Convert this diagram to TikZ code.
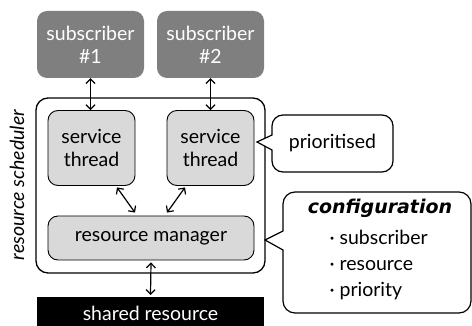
\documentclass[tikz,border=0pt]{standalone}
\usepackage{fontspec}
\setmainfont{Lato}
\newfontfamily\titlefont{DejaVu Sans}
\usetikzlibrary{arrows.meta,calc}
\definecolor{subgray}{HTML}{7F7F7F}
\definecolor{boxgray}{HTML}{D9D9D9}
\begin{document}
\begin{tikzpicture}[x=1pt,y=-1pt,
  font=\fontsize{19.5}{23}\selectfont,
  sub/.style={fill=subgray, rounded corners=10pt, text=white, align=center, inner sep=0pt, minimum width=107pt, minimum height=67pt},
  inbox/.style={draw=black, fill=boxgray, line width=0.9pt, rounded corners=10pt, align=center, inner sep=0pt},
  outer/.style={draw=black, line width=1.3pt, rounded corners=12pt, inner sep=0pt, minimum width=229pt, minimum height=175pt},
  callout/.style={draw=black, line width=1.2pt, fill=white},
  arr/.style={<->, >={Straight Barb[length=4.5pt,width=9pt,line width=1.2pt]}, line width=1.2pt}]
\useasboundingbox (0,0) rectangle (472,326);
% subscribers
\node[sub] (s1) at (90.5,44.5) {subscriber\\\#1};
\node[sub] (s2) at (210.5,44.5) {subscriber\\\#2};
\path (90.5,10) (90.5,77);
% scheduler box
\node[outer] (sched) at (150.5,185.5) {};
\node[rotate=90, font=\fontsize{19.5}{23}\selectfont\itshape] (schedlabel) at (17,185) {resource scheduler};
% inner boxes
\node[inbox, minimum width=87pt, minimum height=75pt] (t1) at (91.5,148) {service\\thread};
\node[inbox, minimum width=87pt, minimum height=75pt] (t2) at (210.5,148) {service\\thread};
\node[inbox, minimum width=206pt, minimum height=44pt] (m) at (151,238) {resource manager};
% shared resource
\fill[black] (37,297) rectangle (264,326);
\node[text=white, anchor=base] (sr) at (150.5,320) {shared resource};
\coordinate (srtop) at (150.5,297);
% arrows
\draw[arr] (s1.south) -- (s1.south |- t1.north);
\draw[arr] (s2.south) -- (s2.south |- t2.north);
\draw[arr] ($(t1.south)+(25.5,1.5)$) -- ($(m.north)+(-16,-3)$);
\draw[arr] ($(t2.south)+(-25.5,1.5)$) -- ($(m.north)+(16,-3)$);
\draw[arr] ($(m.south)+(0,2)$) -- ($(srtop)+(0,-2)$);
% prioritised callout
\draw[callout] (257,142) -- (272,150) [rounded corners=11pt] -- (272,172) -- (393,172) -- (393,115) -- (272,115) [sharp corners] -- (272,135) -- cycle;
\node (prio) at (332.5,143) {prioritised};
% configuration callout
\draw[callout] (265,240) -- (283,250) [rounded corners=12pt] -- (283,313) -- (471,313) -- (471,192) -- (283,192) [sharp corners] -- (283,231) -- cycle;
\node[anchor=base, font=\fontsize{19}{22}\titlefont\bfseries\itshape] (cfg) at (380,214) {configuration};
\node[anchor=base west] (c1) at (326,245) {·\ subscriber};
\node[anchor=base west] (c2) at (326,271) {·\ resource};
\node[anchor=base west] (c3) at (326,297) {·\ priority};
\end{tikzpicture}
\end{document}
